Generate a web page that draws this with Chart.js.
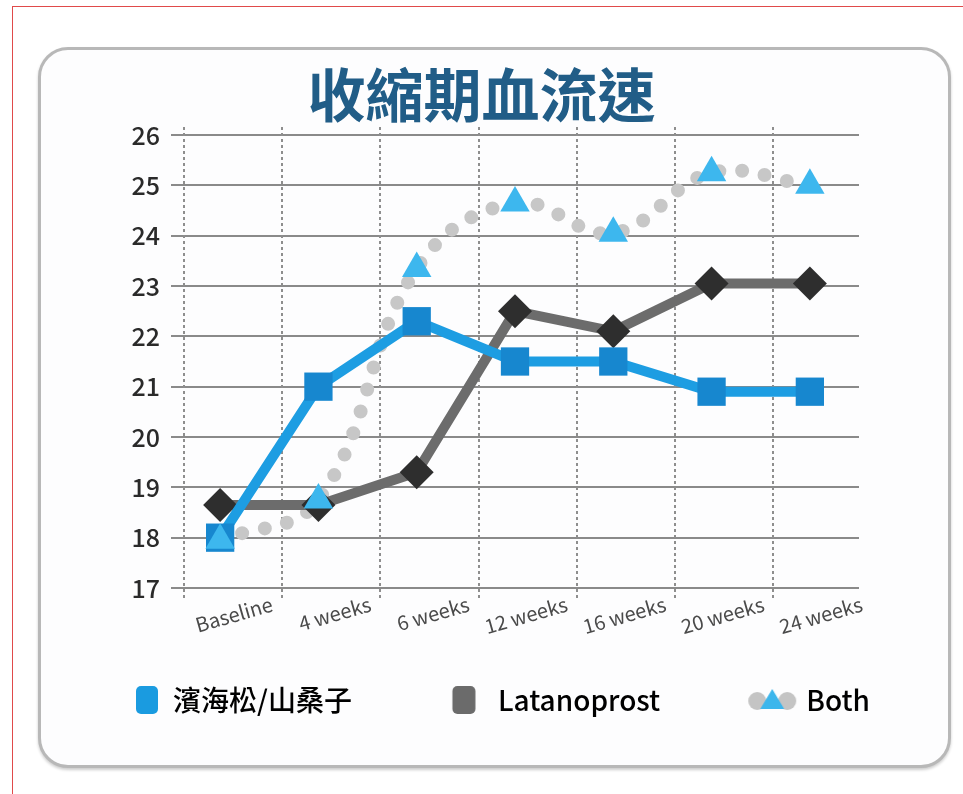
<!DOCTYPE html>
<html>
<head>
<meta charset="utf-8">
<title>收縮期血流速</title>
<script src="https://cdn.jsdelivr.net/npm/chart.js@4.4.0/dist/chart.umd.min.js"></script>
<style>
  html, body { margin: 0; padding: 0; background: #fff; overflow: hidden; }
  #frame {
    position: absolute; left: 12px; top: 6px; width: 1000px; height: 900px;
    border-left: 1px solid #e04a4a; border-top: 1px solid #e04a4a;
  }
  #card {
    position: absolute; left: 38px; top: 47px; width: 907px; height: 715px;
    border: 3px solid #b8b8b8; border-radius: 30px; background: #fdfdfe;
    box-shadow: 0 2px 3px rgba(0, 0, 0, 0.2);
  }
  #wrap { position: absolute; left: 0; top: 0; width: 963px; height: 794px; }
</style>
</head>
<body>
<div id="frame"></div>
<div id="card"></div>
<div id="wrap"><canvas id="myChart" width="963" height="794"></canvas></div>

<script>
// Chart data
const categories = ['Baseline', '4 weeks', '6 weeks', '12 weeks', '16 weeks', '20 weeks', '24 weeks'];
const herbValues = [18.0, 21.0, 22.3, 21.5, 21.5, 20.9, 20.9];
const latanoprostValues = [18.65, 18.65, 19.3, 22.5, 22.1, 23.05, 23.05];
const bothValues = [17.95, 18.75, 23.35, 24.65, 24.05, 25.25, 25.0];
const yTickValues = [17, 18, 19, 20, 21, 22, 23, 24, 25, 26];
const seriesNames = ['濱海松/山桑子', 'Latanoprost', 'Both'];

const FONT = '"Noto Sans CJK TC", "Noto Sans", sans-serif';

// small rounded rect helper for legend icons
function roundBox(ctx, x, y, w, h, r) {
    ctx.beginPath();
    ctx.moveTo(x + r, y);
    ctx.arcTo(x + w, y, x + w, y + h, r);
    ctx.arcTo(x + w, y + h, x, y + h, r);
    ctx.arcTo(x, y + h, x, y, r);
    ctx.arcTo(x, y, x + w, y, r);
    ctx.closePath();
    ctx.fill();
}

// legend icons are drawn into a canvas centred on the legend box,
// shifted to the right so they sit just before the label text
function legendIcon(draw) {
    var c = document.createElement('canvas');
    c.width = 140;
    c.height = 36;
    draw(c.getContext('2d'), 70, 18);
    return c;
}

var herbIcon = legendIcon(function (ctx, cx, cy) {
    ctx.fillStyle = '#1a9be0';
    roundBox(ctx, cx + 48 - 11, cy - 14, 22, 28, 5);
});
var latanoIcon = legendIcon(function (ctx, cx, cy) {
    ctx.fillStyle = '#6b6b6b';
    roundBox(ctx, cx + 40 - 11.5, cy - 14, 23, 28, 5);
});
var bothIcon = legendIcon(function (ctx, cx, cy) {
    var mx = cx + 40;
    ctx.fillStyle = '#c4c4c4';
    ctx.beginPath(); ctx.arc(mx - 15, cy + 1, 9, 0, Math.PI * 2); ctx.fill();
    ctx.beginPath(); ctx.arc(mx + 15, cy + 1, 9, 0, Math.PI * 2); ctx.fill();
    ctx.fillStyle = '#3cb6ec';
    ctx.beginPath();
    ctx.moveTo(mx, cy - 11);
    ctx.lineTo(mx + 12, cy + 9);
    ctx.lineTo(mx - 12, cy + 9);
    ctx.closePath();
    ctx.fill();
});

// dotted vertical lines, sitting a bit left of each category point
const dottedColumns = {
    id: 'dottedColumns',
    beforeDatasetsDraw(chart) {
        const { ctx, chartArea, scales: { x } } = chart;
        const step = x.getPixelForValue(1) - x.getPixelForValue(0);
        ctx.save();
        ctx.strokeStyle = '#8e8e8e';
        ctx.lineWidth = 2;
        ctx.setLineDash([3, 3]);
        for (let i = 0; i < categories.length; i++) {
            const px = Math.round(x.getPixelForValue(i) - step * 0.37);
            ctx.beginPath();
            ctx.moveTo(px, chartArea.top - 8);
            ctx.lineTo(px, chartArea.bottom + 12);
            ctx.stroke();
        }
        ctx.restore();
    }
};

const ctx = document.getElementById('myChart').getContext('2d');
const myChart = new Chart(ctx, {
    type: 'line',
    data: {
        labels: categories,
        datasets: [{
            label: seriesNames[2],
            data: bothValues,
            showLine: false,
            pointStyle: 'triangle',
            pointRadius: 17,
            pointHoverRadius: 17,
            pointBackgroundColor: '#3db7ee',
            pointBorderWidth: 0,
            order: 0
        }, {
            label: seriesNames[0],
            data: herbValues,
            borderColor: '#1d9de2',
            borderWidth: 10,
            pointStyle: 'rect',
            pointRadius: 20,
            pointHoverRadius: 20,
            pointBackgroundColor: '#1787cf',
            pointBorderWidth: 0,
            order: 1
        }, {
            label: seriesNames[1],
            data: latanoprostValues,
            borderColor: '#6c6c6c',
            borderWidth: 10,
            pointStyle: 'rectRot',
            pointRadius: 17,
            pointHoverRadius: 17,
            pointBackgroundColor: '#2e2e2e',
            pointBorderWidth: 0,
            order: 2
        }, {
            label: 'Both trend',
            data: bothValues,
            borderColor: '#c7c7c7',
            borderWidth: 14,
            borderDash: [0, 23],
            borderCapStyle: 'round',
            tension: 0.4,
            pointRadius: 0,
            order: 3
        }]
    },
    options: {
        responsive: false,
        animation: false,
        events: [],
        layout: {
            padding: { top: 66, left: 27, right: 27, bottom: 70 }
        },
        plugins: {
            title: {
                display: true,
                text: '收縮期血流速',
                color: '#215d87',
                font: { family: FONT, size: 58, weight: 'bold', lineHeight: 1 },
                padding: { top: 0, bottom: 11 }
            },
            legend: {
                position: 'bottom',
                align: 'start',
                labels: {
                    usePointStyle: true,
                    pointStyleWidth: 120,
                    padding: 12,
                    color: '#383838',
                    font: { family: FONT, size: 28, weight: 500 },
                    generateLabels: function () {
                        var icons = [herbIcon, latanoIcon, bothIcon];
                        return seriesNames.map(function (name, i) {
                            return {
                                text: name,
                                pointStyle: icons[i],
                                fillStyle: 'transparent',
                                strokeStyle: 'transparent',
                                lineWidth: 0,
                                hidden: false,
                                datasetIndex: i
                            };
                        });
                    }
                }
            },
            tooltip: { enabled: false }
        },
        scales: {
            x: {
                type: 'category',
                offset: true,
                grid: { display: false, drawTicks: false },
                border: { display: false },
                ticks: {
                    autoSkip: false,
                    minRotation: 16,
                    maxRotation: 16,
                    labelOffset: 52,
                    padding: 4,
                    color: '#4a4a4a',
                    font: { family: FONT, size: 20 }
                },
                afterFit: function (s) { s.height = 86; }
            },
            y: {
                min: 17,
                max: 26,
                grid: { color: '#8a8a8a', lineWidth: 2, drawTicks: false },
                border: { display: false },
                ticks: {
                    padding: 11,
                    color: '#2a2a2a',
                    font: { family: FONT, size: 25, weight: 500 }
                },
                afterBuildTicks: function (s) {
                    s.ticks = yTickValues.map(function (v) { return { value: v }; });
                },
                afterFit: function (s) { s.width = 144; }
            },
            yPad: {
                position: 'right',
                grid: { display: false },
                border: { display: false },
                ticks: { display: false },
                afterFit: function (s) { s.width = 77; }
            }
        }
    },
    plugins: [dottedColumns]
});
</script>
</body>
</html>
